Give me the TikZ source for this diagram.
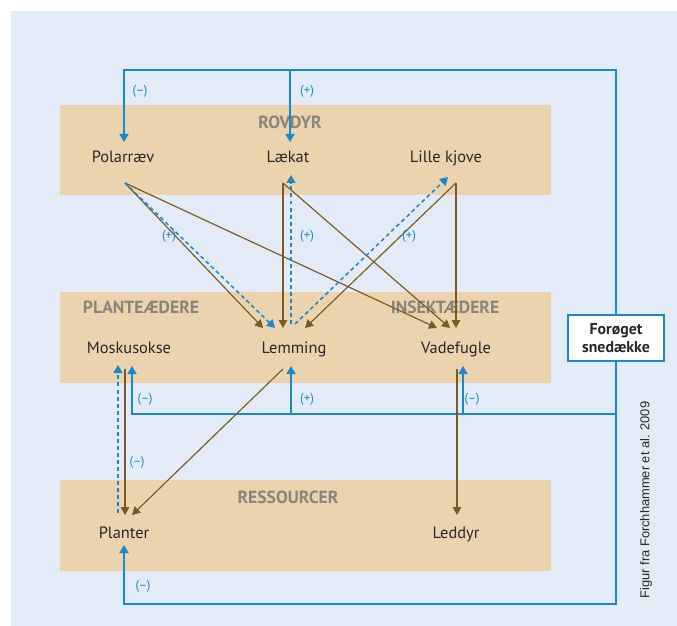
\documentclass[tikz,border=0pt]{standalone}
\usepackage{fontspec}
\setmainfont{PT Sans}
\newfontfamily\capfont{Liberation Sans}
\usetikzlibrary{arrows.meta,positioning,calc}
\definecolor{bgblue}{RGB}{227,235,246}
\definecolor{bandtan}{RGB}{235,211,174}
\definecolor{linkblue}{RGB}{26,136,206}
\definecolor{linkbrown}{RGB}{122,90,38}
\definecolor{grouptext}{RGB}{135,134,122}
\definecolor{nametext}{RGB}{40,40,40}

\begin{document}
\begin{tikzpicture}[
  x=0.03cm, y=-0.03cm,
  grp/.style={font=\fontsize{15}{17}\selectfont\bfseries, text=grouptext},
  sp/.style={font=\fontsize{14}{16}\selectfont, text=nametext, inner sep=0pt, anchor=base},
  sgn/.style={font=\fontsize{11}{13}\selectfont, text=linkblue},
  snow/.style={draw=linkblue, line width=1.6pt, fill=white, align=center, minimum width=2.88cm, minimum height=1.38cm, font=\fontsize{13.5}{15.5}\selectfont\bfseries, text=nametext},
  eat/.style={-{Triangle[length=2.4mm,width=2.6mm]}, draw=linkbrown, line width=1pt},
  eff/.style={-{Triangle[length=2.4mm,width=2.7mm]}, draw=linkblue, line width=1.3pt},
  effd/.style={eff, dash pattern=on 3.4pt off 2.6pt},
]
\useasboundingbox (0,0) rectangle (677,626);
\fill[bgblue] (11,11) rectangle (677,626);

% baand
\fill[bandtan] (60,105) rectangle (551,195);
\fill[bandtan] (60,292) rectangle (551,383);
\fill[bandtan] (60,480) rectangle (551,571);

\node[grp] (rovdyr) at (290,122) {ROVDYR};
\node[grp] (plante) at (141,307) {PLANTEÆDERE};
\node[grp] (insekt) at (445,307) {INSEKTÆDERE};
\node[grp] (ressource) at (288,497) {RESSOURCER};

% arter
\node[sp] (polar) at (123,163) {Polarræv};
\node[sp] (laekat) at (288,163) {Lækat};
\node[sp] (kjove) at (446,163) {Lille kjove};
\node[sp] (mosk) at (129,353) {Moskusokse};
\node[sp] (lemming) at (294,353) {Lemming};
\node[sp] (vade) at (456,353) {Vadefugle};
\node[sp] (planter) at (124,538) {Planter};
\node[sp] (leddyr) at (456,538) {Leddyr};

\node[snow] (sne) at (616,338) {Forøget\\snedække};
\node[rotate=90, font=\capfont\fontsize{11}{13}\selectfont, text=nametext] (kilde) at (646,500) {Figur fra Forchhammer et al. 2009};

% indgange for snedække-pilene
\coordinate (ytop) at (0,70);
\coordinate (ymid) at (0,414);
\coordinate (ybot) at (0,604);
\coordinate (polar-in) at ($(polar.base)+(1,-21)$);
\coordinate (laekat-in) at ($(laekat.base)+(2,-21)$);
\coordinate (mosk-in) at ($(mosk.base)+(3,13)$);
\coordinate (lemming-in) at ($(lemming.base)+(-3,13)$);
\coordinate (vade-in) at ($(vade.base)+(7,13)$);
\coordinate (planter-in) at ($(planter.base)+(0,7)$);

\draw[eff] (sne.north) |- (ytop -| polar-in) -- (polar-in);
\draw[eff] (ytop -| laekat-in) -- (laekat-in);
\draw[eff] (ymid -| sne) -| (mosk-in);
\draw[eff] (ymid -| lemming-in) -- (lemming-in);
\draw[eff] (ymid -| vade-in) -- (vade-in);
\draw[eff] (sne.south) |- (ybot -| planter-in) -- (planter-in);

% foedekaede
\draw[eat] ($(polar.base)+(2,20)$) -- ($(lemming.base)+(-31,-25)$);
\draw[eat] ($(polar.base)+(2,20)$) -- ($(vade.base)+(-19,-25)$);
\draw[eat] ($(laekat.base)+(-5,20)$) -- ($(lemming.base)+(-11,-25)$);
\draw[eat] ($(laekat.base)+(-5,20)$) -- ($(vade.base)+(-6,-25)$);
\draw[eat] ($(kjove.base)+(10,20)$) -- ($(lemming.base)+(11,-25)$);
\draw[eat] ($(kjove.base)+(10,20)$) -- ($(vade.base)+(0,-25)$);
\draw[eat] ($(mosk.base)+(-4,16)$) -- ($(planter.base)+(1,-23)$);
\draw[eat] ($(lemming.base)+(-11,16)$) -- ($(planter.base)+(8,-23)$);
\draw[eat] ($(vade.base)+(1,16)$) -- ($(leddyr.base)+(1,-23)$);

% stiplede effekter
\draw[effd] ($(polar.base)+(2,20)$) -- ($(lemming.base)+(-19,-25)$);
\draw[effd] ($(lemming.base)+(-3,-29)$) -- ($(laekat.base)+(3,12)$);
\draw[effd] ($(lemming.base)+(1,-29)$) -- ($(kjove.base)+(2,14)$);
\draw[effd] ($(planter.base)+(-6,-25)$) -- ($(mosk.base)+(-11,12)$);

% fortegn
\node[sgn] (t1) at (140,91) {(–)};
\node[sgn] (t2) at (307,91) {(+)};
\node[sgn] (t3) at (169,236) {(+)};
\node[sgn] (t4) at (307,236) {(+)};
\node[sgn] (t5) at (409,236) {(+)};
\node[sgn] (t6) at (145,399) {(–)};
\node[sgn] (t7) at (307,399) {(+)};
\node[sgn] (t8) at (472,399) {(–)};
\node[sgn] (t9) at (137,462) {(–)};
\node[sgn] (t10) at (143,586) {(–)};
\end{tikzpicture}
\end{document}
